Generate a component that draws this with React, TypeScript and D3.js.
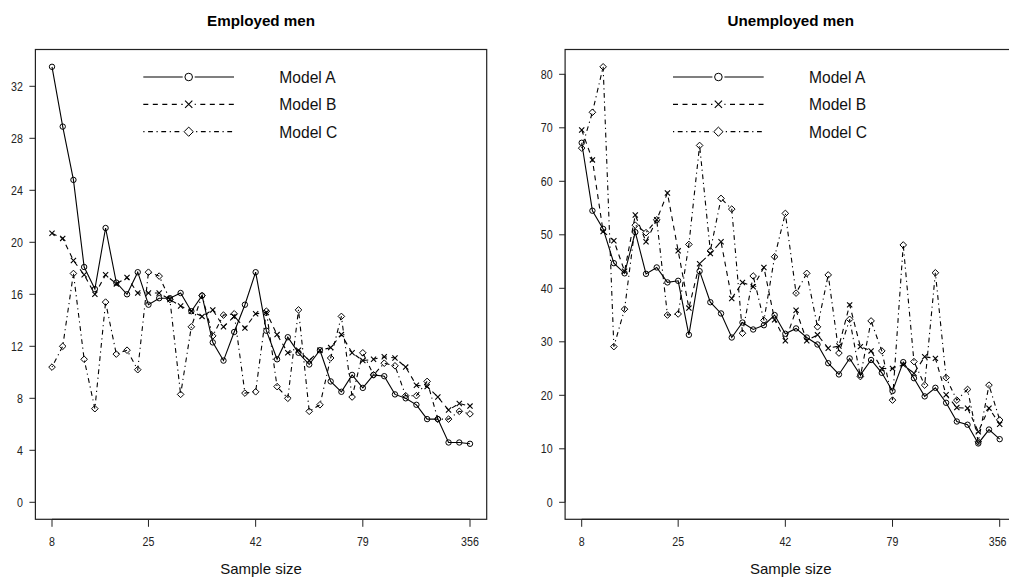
import React from 'react';
import * as d3 from 'd3';

// ---- data ----
const xIndex = d3.range(1, 41);
const xTickPositions = [1, 10, 20, 30, 40];
const xTickLabels = ['8', '25', '42', '79', '356'];
const employedTicks = [0, 4, 8, 12, 16, 20, 24, 28, 32];
const unemployedTicks = [0, 10, 20, 30, 40, 50, 60, 70, 80];
const seriesNames = ['Model A', 'Model B', 'Model C'];

const employedA = [
  33.5, 28.9, 24.8, 18.1, 16.4, 21.1, 16.9, 16.0, 17.7, 15.2,
  15.7, 15.7, 16.1, 14.7, 15.9, 12.3, 10.9, 13.1, 15.2, 17.7,
  13.2, 11.0, 12.7, 11.5, 10.6, 11.7, 9.3, 8.5, 9.8, 8.8,
  9.8, 9.7, 8.3, 8.0, 7.5, 6.4, 6.4, 4.6, 4.6, 4.5,
];
const employedB = [
  20.7, 20.3, 18.6, 17.5, 16.0, 17.5, 16.8, 17.3, 16.1, 16.1,
  16.1, 15.6, 15.1, 14.7, 14.3, 14.8, 13.5, 14.3, 13.4, 14.5,
  14.6, 12.9, 11.5, 11.7, 10.9, 11.7, 11.9, 12.9, 11.5, 10.9,
  11.0, 11.2, 11.1, 10.4, 9.0, 8.9, 8.1, 7.1, 7.6, 7.4,
];
const employedC = [
  10.4, 12.0, 17.6, 11.0, 7.2, 15.4, 11.4, 11.7, 10.2, 17.7,
  17.4, 15.6, 8.3, 13.5, 15.9, 12.8, 14.4, 14.5, 8.4, 8.5,
  14.7, 8.9, 8.0, 14.8, 7.0, 7.5, 11.1, 14.3, 8.1, 11.5,
  9.8, 10.7, 10.5, 8.2, 8.2, 9.3, 6.4, 6.4, 7.0, 6.8,
];
const unemployedA = [
  67.2, 54.5, 51.1, 44.7, 42.8, 50.5, 42.7, 43.9, 41.1, 41.4,
  31.3, 43.2, 37.4, 35.3, 30.8, 33.6, 32.3, 33.1, 35.0, 31.5,
  32.5, 30.8, 29.5, 26.0, 23.9, 26.9, 23.8, 26.6, 24.2, 20.8,
  26.2, 23.2, 19.8, 21.4, 18.6, 15.1, 14.5, 11.0, 13.6, 11.8,
];
const unemployedB = [
  69.6, 64.0, 50.6, 48.9, 43.2, 53.7, 48.7, 52.8, 57.8, 47.0,
  36.3, 44.6, 46.5, 48.7, 38.1, 41.1, 40.3, 43.9, 34.1, 30.2,
  35.9, 30.2, 31.3, 28.8, 29.2, 36.9, 29.1, 28.3, 25.0, 25.0,
  25.7, 24.1, 27.2, 26.9, 20.1, 17.7, 17.6, 13.2, 17.6, 14.6,
];
const unemployedC = [
  66.2, 72.9, 81.4, 29.1, 36.1, 51.8, 50.4, 52.8, 35.0, 35.2,
  48.2, 66.7, 47.0, 56.8, 54.8, 31.6, 42.3, 34.0, 45.9, 54.0,
  39.1, 42.8, 32.8, 42.5, 27.9, 34.2, 23.5, 33.9, 28.3, 19.1,
  48.1, 26.3, 21.9, 42.9, 23.3, 19.1, 21.1, 11.3, 21.9, 15.4,
];

// ---- styles ----
const WIDTH = 1009;
const HEIGHT = 585;
const DASHES = ['', '5,4.5', '1.2,3.6,4.8,3.6'];
const SHAPES = ['circle', 'cross', 'diamond'];
const SANS = "'Liberation Sans', Arial, Helvetica, sans-serif";
const NARROW_W = 0.456 * 13; // per-digit width of a narrow face at 13px

function NarrowText({ x, y, anchor, children }: { x: number; y: number; anchor: string; children: string }) {
  const len = String(children).length * NARROW_W;
  return (
    <text
      x={x}
      y={y}
      textAnchor={anchor}
      fontFamily={SANS}
      fontSize={13}
      fill="#222"
      textLength={len}
      lengthAdjust="spacingAndGlyphs"
    >
      {children}
    </text>
  );
}

function Marker({ shape, x, y, s }: { shape: string; x: number; y: number; s: number }) {
  if (shape === 'circle') {
    return <circle cx={x} cy={y} r={2.7 * s} fill="none" stroke="#000" strokeWidth={1} />;
  }
  if (shape === 'cross') {
    const h = 2.6 * s;
    return (
      <path d={`M${x - h},${y - h}L${x + h},${y + h}M${x - h},${y + h}L${x + h},${y - h}`} stroke="#000" strokeWidth={1.1} fill="none" />
    );
  }
  const h = 3.3 * s;
  return <path d={`M${x},${y - h}L${x + h},${y}L${x},${y + h}L${x - h},${y}Z`} fill="none" stroke="#000" strokeWidth={1} />;
}

type PanelProps = {
  title: string;
  offset: number;
  yMax: number;
  yTopPx: number;
  ticks: number[];
  series: number[][];
};

function Panel({ title, offset, yMax, yTopPx, ticks, series }: PanelProps) {
  const boxL = 35.4 + offset;
  const boxR = 486.7 + offset;
  const boxT = 49.5;
  const boxB = 519.3;
  const x = d3.scaleLinear().domain([1, 40]).range([52 + offset, 470 + offset]);
  const y = d3.scaleLinear().domain([0, yMax]).range([502.3, yTopPx]);
  const line = d3.line<number>().x((_, i) => x(xIndex[i])).y((d) => y(d));
  const cx = (boxL + boxR) / 2;
  const legX0 = 143.3 + offset;
  const legX1 = 234 + offset;
  const legMid = 188.7 + offset;
  const legText = 279.3 + offset;
  const legY = [77, 104.3, 131.7];

  return (
    <g>
      <text x={cx} y={26} textAnchor="middle" fontFamily={SANS} fontWeight="bold" fontSize={15.2}>
        {title}
      </text>
      <rect x={boxL} y={boxT} width={boxR - boxL} height={boxB - boxT} fill="none" stroke="#222" strokeWidth={1.2} />
      {/* y axis */}
      <line x1={boxL} x2={boxL} y1={y(0)} y2={y(ticks[ticks.length - 1])} stroke="#222" strokeWidth={1} />
      {ticks.map((t) => (
        <g key={t}>
          <line x1={boxL - 6} x2={boxL} y1={y(t)} y2={y(t)} stroke="#222" strokeWidth={1} />
          <NarrowText x={boxL - 12.5} y={y(t) + 4.6} anchor="end">
            {String(t)}
          </NarrowText>
        </g>
      ))}
      {/* x axis */}
      <line x1={x(1)} x2={x(40)} y1={boxB} y2={boxB} stroke="#222" strokeWidth={1.2} />
      {xTickPositions.map((p, i) => {
        const half = (xTickLabels[i].length * NARROW_W) / 2;
        const lx = Math.min(x(p), WIDTH - 2.5 - half);
        return (
          <g key={p}>
            <line x1={x(p)} x2={x(p)} y1={boxB} y2={boxB + 7.5} stroke="#222" strokeWidth={1} />
            <NarrowText x={lx} y={546.3} anchor="middle">
              {xTickLabels[i]}
            </NarrowText>
          </g>
        );
      })}
      <text x={cx} y={573.6} textAnchor="middle" fontFamily={SANS} fontSize={15} fill="#111">
        Sample size
      </text>
      {/* series */}
      {series.map((vals, si) => (
        <g key={si}>
          <path d={line(vals) || ''} fill="none" stroke="#000" strokeWidth={1.1} strokeDasharray={DASHES[si] || undefined} />
          {vals.map((v, i) => (
            <Marker key={i} shape={SHAPES[si]} x={x(xIndex[i])} y={y(v)} s={1} />
          ))}
        </g>
      ))}
      {/* legend */}
      {seriesNames.map((name, si) => (
        <g key={name}>
          <line x1={legX0} x2={legX1} y1={legY[si]} y2={legY[si]} stroke="#000" strokeWidth={1.2} strokeDasharray={DASHES[si] || undefined} />
          <rect x={legMid - 6} y={legY[si] - 6} width={12} height={12} fill="#fff" />
          <Marker shape={SHAPES[si]} x={legMid} y={legY[si]} s={1.4} />
          <text x={legText} y={legY[si] + 6} fontFamily={SANS} fontSize={15.6} fill="#111">
            {name}
          </text>
        </g>
      ))}
    </g>
  );
}

export default function App() {
  return (
    <svg
      width={WIDTH}
      height={HEIGHT}
      viewBox={`0 0 ${WIDTH} ${HEIGHT}`}
      style={{ position: 'absolute', left: 0, top: 0, background: '#fff' }}
    >
      <rect x={0} y={0} width={WIDTH} height={HEIGHT} fill="#fff" />
      <Panel
        title="Employed men"
        offset={0}
        yMax={32}
        yTopPx={86.3}
        ticks={employedTicks}
        series={[employedA, employedB, employedC]}
      />
      <Panel
        title="Unemployed men"
        offset={529.7}
        yMax={80}
        yTopPx={74.3}
        ticks={unemployedTicks}
        series={[unemployedA, unemployedB, unemployedC]}
      />
    </svg>
  );
}
